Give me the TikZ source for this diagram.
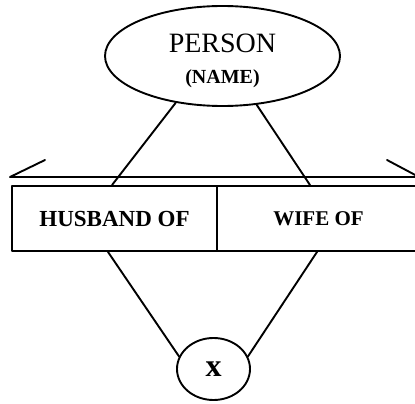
\documentclass[tikz,border=0pt]{standalone}
\usepackage{fontspec}
\setmainfont{Liberation Serif}
\usetikzlibrary{shapes.geometric}
\tikzset{
  ln/.style={line width=1.9pt, line cap=round, line join=round},
  cell/.style={draw, ln, rectangle, inner sep=0pt, minimum height=65pt},
}
\begin{document}
\begin{tikzpicture}[x=1pt,y=1pt]
\useasboundingbox (0,0) rectangle (415,-404);
\clip (0,0) rectangle (415,-404);
\fill[white] (0,0) rectangle (415,-404);
% entity
\node[draw, ln, ellipse, minimum width=235pt, minimum height=100pt, inner sep=0pt, align=center,
  font=\fontsize{28}{31}\selectfont]
  (person) at (222.5,-56)
  {\rule{0pt}{29pt}PERSON\\{\bfseries\fontsize{20}{31}\selectfont (NAME)}};
% relationship roles
\node[cell, minimum width=205pt, font=\bfseries\fontsize{23}{26}\selectfont] (husband) at (114.5,-218.5) {HUSBAND OF};
\node[cell, minimum width=203pt, font=\bfseries\fontsize{21}{26}\selectfont] (wife) at (318.5,-218.5) {WIFE OF};
% circle
\node[draw, ln, ellipse, minimum width=73pt, minimum height=62pt, inner sep=0pt,
  font=\bfseries\fontsize{32}{32}\selectfont] (cx) at (213.5,-369) {x};
% upper bar with stubs
\coordinate (lstub) at (45,-160);
\coordinate (lend) at (10,-177);
\coordinate (rend) at (420,-177);
\coordinate (rstub) at (387,-160);
\coordinate (rtip) at (419,-177);
\draw[ln] (lstub) -- (lend) -- (rend);
\draw[ln] (rstub) -- (rtip);
% connectors
\draw[ln] (person.225) -- ([xshift=-2.5pt]husband.north);
\draw[ln] (person.-55) -- ([xshift=-8.5pt]wife.north);
\draw[ln] ([xshift=-6.5pt]husband.south) -- (cx.160);
\draw[ln] ([xshift=-1.5pt]wife.south) -- (cx.20);
\end{tikzpicture}
\end{document}
